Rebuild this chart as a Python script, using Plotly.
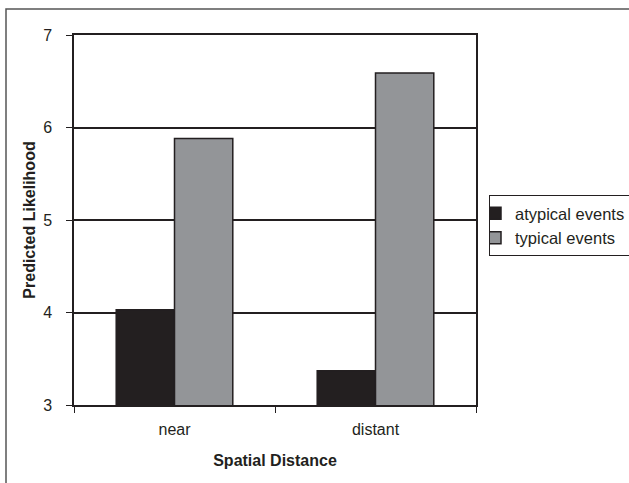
import plotly.graph_objects as go

categories = ["near", "distant"]
atypical = [4.03, 3.37]
typical = [5.88, 6.59]
series_names = ["atypical events", "typical events"]
y_ticks = [3, 4, 5, 6, 7]

FONT = "Liberation Sans, Arial, sans-serif"
TXT = "#231f20"

L, R, T, B = 74, 153, 35, 78
W, H = 629, 483
PW, PH = W - L - R, H - T - B

def px_x(x):
    return (x - L) / PW

def px_y(y):
    return 1 - (y - T) / PH

fig = go.Figure()
fig.add_trace(go.Bar(x=categories, y=atypical, name=series_names[0],
                     marker=dict(color="#231f20", line=dict(color="#231f20", width=1.5))))
fig.add_trace(go.Bar(x=categories, y=typical, name=series_names[1],
                     marker=dict(color="#939598", line=dict(color="#231f20", width=1.5))))

fig.update_layout(
    width=W, height=H,
    margin=dict(l=L, r=R, t=T, b=B, autoexpand=False),
    paper_bgcolor="white", plot_bgcolor="white",
    barmode="group", bargap=0.42, bargroupgap=0,
    font=dict(family=FONT, size=16, color=TXT),
    legend=dict(x=px_x(489), y=px_y(195), xanchor="left", yanchor="top",
                bordercolor="#231f20", borderwidth=1, indentation=-15,
                font=dict(size=16.5, color=TXT), itemwidth=30,
                tracegroupgap=0, bgcolor="white"),
    xaxis=dict(showline=True, linecolor="#231f20", linewidth=1.5, mirror=True,
               ticks="outside", tickson="boundaries", ticklen=6, tickcolor="#231f20",
               ticklabelstandoff=9,
               title=dict(text="<b>Spatial Distance</b>", font=dict(size=16), standoff=18),
               tickfont=dict(size=16)),
    yaxis=dict(range=[3, 7], tickvals=y_ticks, showline=True, linecolor="#231f20",
               linewidth=1.5, mirror=True, ticks="outside", ticklen=6, tickcolor="#231f20",
               ticklabelstandoff=11,
               showgrid=True, gridcolor="#231f20", gridwidth=1.5, zeroline=False,
               title=dict(text="<b>Predicted Likelihood</b>", font=dict(size=16), standoff=4),
               tickfont=dict(size=16)),
    shapes=[dict(type="rect", xref="paper", yref="paper",
                 x0=px_x(6), x1=px_x(700), y0=px_y(560), y1=px_y(9),
                 line=dict(color="#555555", width=1.5), fillcolor="rgba(0,0,0,0)",
                 layer="below")],
)

fig.write_html("out.html")
